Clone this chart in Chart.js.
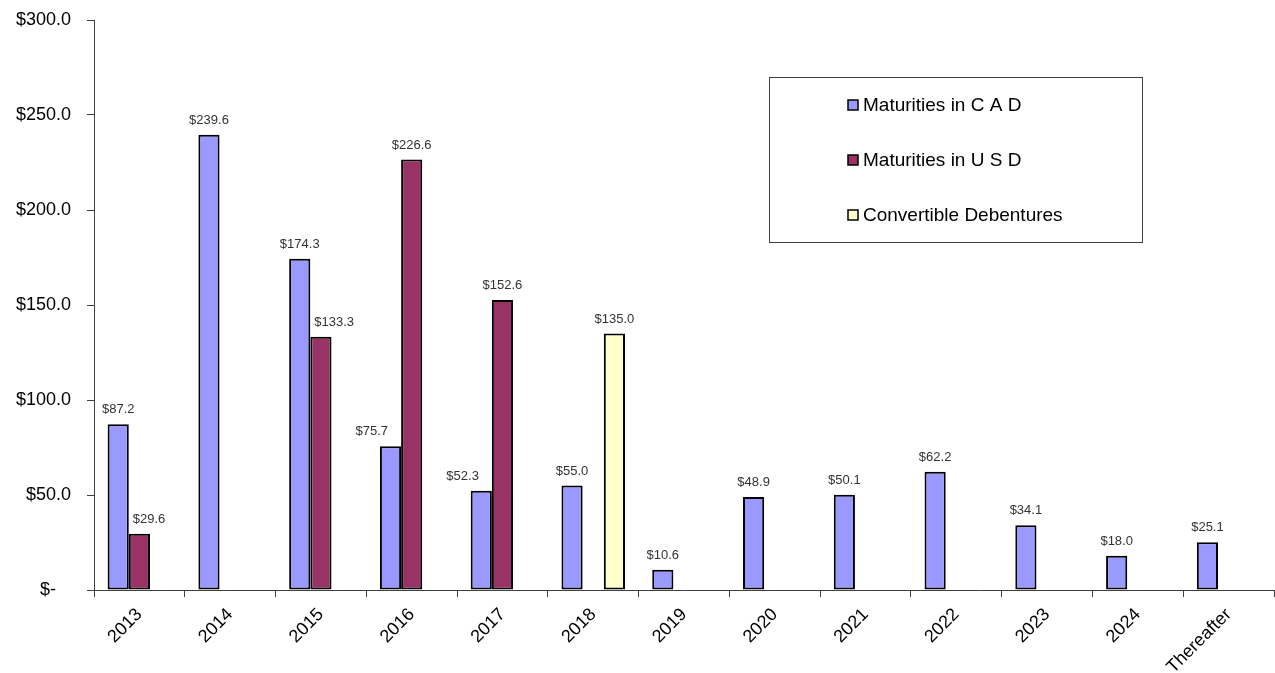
<!DOCTYPE html>
<html>
<head>
<meta charset="utf-8">
<script src="https://cdn.jsdelivr.net/npm/chart.js@4.4.1/dist/chart.umd.min.js"></script>
<style>
  html, body { margin: 0; padding: 0; background: #ffffff; }
  #wrap { width: 1275px; height: 673px; position: relative; }
</style>
</head>
<body>
<div id="wrap"><canvas id="chart"></canvas></div>
<script>
// Debt maturity schedule ($ millions)
const categories = ['2013', '2014', '2015', '2016', '2017', '2018', '2019', '2020', '2021', '2022', '2023', '2024', 'Thereafter'];
const maturitiesCAD = [87.2, 239.6, 174.3, 75.7, 52.3, 55.0, 10.6, 48.9, 50.1, 62.2, 34.1, 18.0, 25.1];
const maturitiesUSD = [29.6, null, 133.3, 226.6, 152.6, null, null, null, null, null, null, null, null];
const convertibleDebentures = [null, null, null, null, null, 135.0, null, null, null, null, null, null, null];
const seriesNames = ['Maturities in C A D', 'Maturities in U S D', 'Convertible Debentures'];
const yTicks = [0, 50, 100, 150, 200, 250, 300];

const FONT = 'Liberation Sans, Arial, sans-serif';
const AXIS = '#404040';

// Dollar labels above each bar; a label is nudged sideways when the
// neighbouring bar in the same group is tall enough to run into it.
const valueLabels = {
  id: 'valueLabels',
  afterDatasetsDraw(chart) {
    const ctx = chart.ctx;
    ctx.save();
    ctx.font = '13px ' + FONT;
    ctx.fillStyle = '#333333';
    ctx.textAlign = 'center';
    ctx.textBaseline = 'bottom';
    const sets = chart.data.datasets;
    const metas = sets.map((_, i) => chart.getDatasetMeta(i));
    sets.forEach((ds, i) => {
      metas[i].data.forEach((bar, j) => {
        const v = ds.data[j];
        if (v === null || v === undefined) return;
        const text = '$' + v.toFixed(1);
        const tw = ctx.measureText(text).width;
        const ly = bar.y - 8;
        let lx = bar.x;
        const half = bar.width / 2;
        // right-hand neighbour
        if (i + 1 < sets.length && sets[i + 1].data[j] != null) {
          const nb = metas[i + 1].data[j];
          if (nb.y < ly && lx + tw / 2 > nb.x - half) lx = (nb.x - nb.width / 2) - 13 - tw / 2;
        }
        // left-hand neighbour
        if (i > 0 && sets[i - 1].data[j] != null) {
          const nb = metas[i - 1].data[j];
          if (nb.y < ly && lx - tw / 2 < nb.x + half) lx = (nb.x + nb.width / 2) + 4 + tw / 2;
        }
        ctx.fillText(text, lx, ly);
      });
    });
    ctx.restore();
  }
};

// Boxed legend inside the plot area
const boxedLegend = {
  id: 'boxedLegend',
  afterDraw(chart) {
    const ctx = chart.ctx;
    const a = chart.chartArea;
    const x0 = Math.round(a.left + 675), y0 = Math.round(a.top + 57);
    const bw = 373, bh = 165;
    ctx.save();
    ctx.strokeStyle = AXIS;
    ctx.lineWidth = 1;
    ctx.strokeRect(x0 + 0.5, y0 + 0.5, bw, bh);
    ctx.font = '19px ' + FONT;
    ctx.textBaseline = 'middle';
    ctx.textAlign = 'left';
    chart.data.datasets.forEach((ds, i) => {
      const cy = y0 + 28 + i * 55;
      const sx = x0 + 79;
      ctx.fillStyle = ds.backgroundColor;
      ctx.fillRect(sx, cy - 5, 10, 10);
      ctx.strokeStyle = '#000000';
      ctx.lineWidth = 1.5;
      ctx.strokeRect(sx, cy - 5, 10, 10);
      ctx.fillStyle = '#000000';
      ctx.fillText(ds.label, sx + 15, cy + 1);
    });
    ctx.restore();
  }
};

const mkSet = (label, data, color) => ({
  label, data,
  backgroundColor: color,
  borderColor: '#000000',
  borderWidth: 2,
  borderSkipped: false,
  categoryPercentage: 0.7,
  barPercentage: 1.0
});

new Chart(document.getElementById('chart'), {
  type: 'bar',
  data: {
    labels: categories,
    datasets: [
      mkSet(seriesNames[0], maturitiesCAD, '#9999FF'),
      mkSet(seriesNames[1], maturitiesUSD, '#993366'),
      mkSet(seriesNames[2], convertibleDebentures, '#FFFFCC')
    ]
  },
  options: {
    responsive: true,
    maintainAspectRatio: false,
    animation: false,
    layout: { padding: { left: 0, right: 1, top: 20, bottom: 0 } },
    plugins: {
      legend: { display: false },
      tooltip: { enabled: false }
    },
    scales: {
      x: {
        afterFit(scale) { scale.height = 83; },
        grid: { display: true, drawOnChartArea: false, drawTicks: true, tickLength: 7, color: AXIS, offset: true },
        border: { display: true, color: AXIS, width: 1 },
        ticks: {
          color: '#000000',
          font: { family: FONT, size: 18 },
          maxRotation: 45, minRotation: 45,
          autoSkip: false,
          padding: 7
        }
      },
      y: {
        min: 0, max: 300,
        afterBuildTicks(scale) { scale.ticks = yTicks.map(v => ({ value: v })); },
        afterFit(scale) { scale.width = 94; scale.paddingTop = 0; scale.paddingBottom = 0; },
        grid: { display: true, drawOnChartArea: false, drawTicks: true, tickLength: 7, color: AXIS },
        border: { display: true, color: AXIS, width: 1 },
        ticks: {
          color: '#000000',
          font: { family: FONT, size: 18 },
          padding: 16,
          callback: v => v === 0 ? '$-   ' : '$' + Number(v).toFixed(1)
        }
      }
    }
  },
  plugins: [valueLabels, boxedLegend]
});
</script>
</body>
</html>
